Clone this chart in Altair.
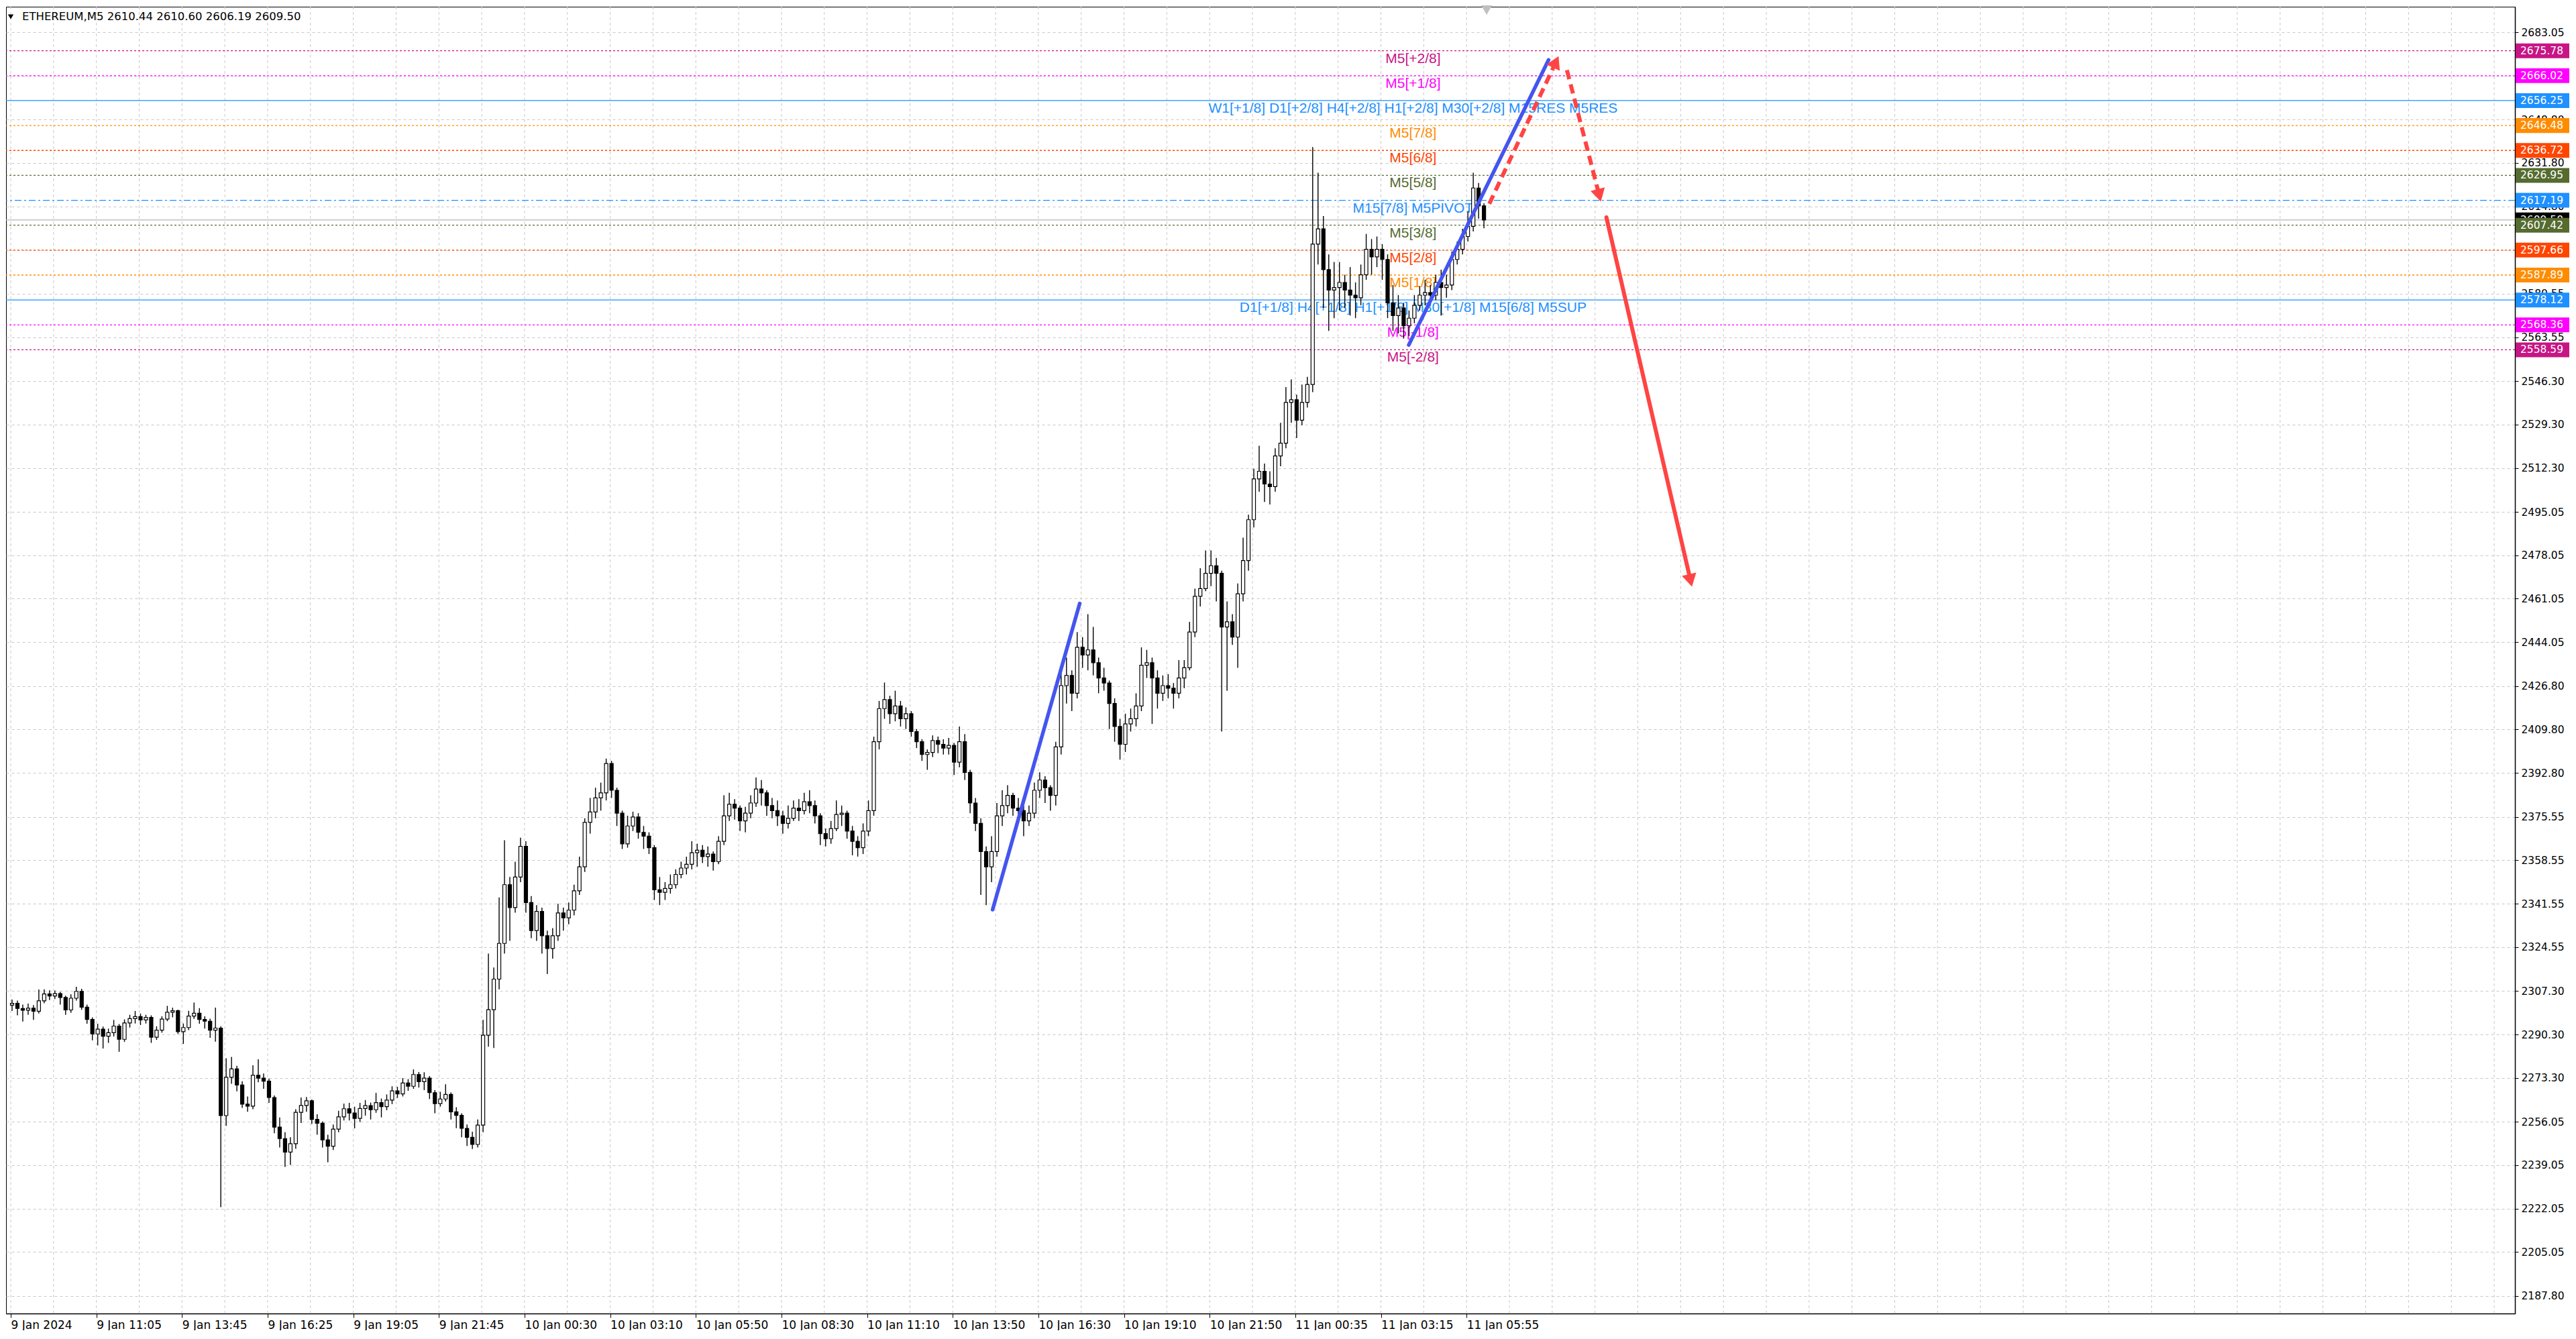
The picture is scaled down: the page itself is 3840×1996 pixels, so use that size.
import altair as alt
import pandas as pd


# ETHEREUM M5, 9-11 Jan 2024. Candles, two M5 bars per candle
# (open = close of the candle before)
first_open = 2301.8
closes = [
    2302.5, 2300.5, 2299.8, 2300.6, 2299.4, 2303.5, 2306.2, 2305.4, 2306.3, 2304.8,
    2299.9, 2304.5, 2307.2, 2301.0, 2296.2, 2290.5, 2292.4, 2289.6, 2291.0, 2293.6,
    2288.4, 2294.8, 2296.5, 2297.3, 2296.0, 2297.0, 2289.2, 2292.0, 2296.3, 2299.0,
    2299.6, 2291.4, 2293.0, 2297.5, 2298.6, 2296.2, 2295.5, 2292.0, 2292.8, 2258.5,
    2273.5, 2276.8, 2270.5, 2263.0, 2262.2, 2274.3, 2273.2, 2272.0, 2265.6, 2254.0,
    2249.5, 2244.2, 2247.5, 2259.8, 2262.5, 2264.3, 2257.0, 2255.5, 2249.0, 2246.5,
    2253.2, 2258.0, 2261.2, 2259.5, 2257.4, 2261.3, 2262.4, 2260.8, 2263.6, 2262.0,
    2264.6, 2268.2, 2267.0, 2271.3, 2270.0, 2274.6, 2271.8, 2273.2, 2267.5, 2263.2,
    2265.0, 2266.8, 2260.0, 2258.6, 2253.5, 2250.0, 2247.2, 2254.8, 2290.0, 2300.0,
    2312.0, 2326.0, 2349.0, 2340.0, 2352.0, 2364.0, 2342.0, 2331.0, 2338.5, 2329.0,
    2324.0, 2329.0, 2337.9, 2336.0, 2339.0, 2346.6, 2356.0, 2373.4, 2377.5, 2383.0,
    2385.0, 2396.5, 2386.0, 2377.0, 2365.0, 2372.0, 2375.5, 2369.5, 2368.0, 2363.5,
    2347.0, 2346.0, 2347.5, 2349.0, 2353.0, 2355.5, 2357.0, 2361.5, 2362.5, 2360.0,
    2361.0, 2358.0, 2366.0, 2376.0, 2380.5, 2379.0, 2374.0, 2377.0, 2381.0, 2386.5,
    2385.0, 2380.0, 2378.0, 2376.0, 2373.0, 2375.0, 2379.0, 2378.0, 2381.5, 2380.0,
    2376.0, 2369.0, 2367.0, 2371.0, 2376.5, 2377.0, 2370.0, 2366.0, 2363.5, 2370.0,
    2378.0, 2405.0, 2418.0, 2421.5, 2416.0, 2419.0, 2414.0, 2416.0, 2409.0, 2405.0,
    2400.0, 2400.8, 2405.5, 2404.0, 2402.5, 2403.6, 2397.0, 2405.0, 2393.0, 2381.0,
    2373.0, 2362.0, 2356.0, 2362.0, 2376.0, 2380.0, 2384.0, 2379.0, 2378.0, 2374.0,
    2377.0, 2386.0, 2390.0, 2387.0, 2384.0, 2403.0, 2427.0, 2431.0, 2424.0, 2442.0,
    2439.0, 2441.0, 2436.0, 2430.0, 2428.0, 2420.0, 2411.0, 2404.0, 2412.0, 2414.0,
    2419.0, 2435.0, 2436.0, 2430.0, 2424.0, 2427.0, 2426.0, 2424.0, 2430.0, 2434.0,
    2448.0, 2462.0, 2465.0, 2471.0, 2474.0, 2471.0, 2450.0, 2452.0, 2446.0, 2463.0,
    2476.0, 2492.0, 2508.0, 2511.0, 2506.0, 2505.0, 2517.0, 2522.0, 2538.0, 2539.0,
    2531.0, 2538.0, 2545.0, 2600.0, 2606.0, 2590.0, 2582.0, 2583.0, 2585.0, 2582.0,
    2580.0, 2579.0, 2588.0, 2598.0, 2595.0, 2598.0, 2594.0, 2577.0, 2572.0, 2575.0,
    2568.0, 2571.0, 2576.0, 2580.0, 2581.0, 2580.0, 2585.0, 2583.0, 2584.0, 2594.0,
    2598.0, 2603.0, 2607.0, 2622.0, 2615.0, 2609.5,
]
highs = [
    2304.0, 2303.6, 2302.0, 2302.4, 2301.8, 2307.9, 2308.0, 2307.6, 2307.5, 2307.0,
    2305.5, 2306.0, 2309.0, 2308.2, 2302.0, 2297.0, 2294.5, 2293.4, 2292.6, 2296.0,
    2294.4, 2296.2, 2298.0, 2299.5, 2298.5, 2298.0, 2297.8, 2293.5, 2297.4, 2301.5,
    2300.8, 2300.0, 2294.6, 2299.6, 2302.8, 2300.6, 2297.4, 2296.5, 2300.8, 2293.5,
    2281.0, 2281.5, 2278.0, 2272.0, 2266.0, 2278.2, 2280.6, 2275.0, 2273.0, 2266.4,
    2257.8, 2252.0, 2250.0, 2261.0, 2265.6, 2265.8, 2264.8, 2259.0, 2256.2, 2251.0,
    2255.0, 2260.4, 2263.2, 2263.5, 2262.0, 2263.5, 2264.6, 2263.6, 2267.4, 2265.2,
    2266.8, 2270.0, 2269.8, 2273.2, 2272.8, 2276.6, 2275.6, 2275.5, 2274.0, 2268.5,
    2267.8, 2270.8, 2267.6, 2261.8, 2259.4, 2255.0, 2252.2, 2257.0, 2296.0, 2322.0,
    2316.5, 2344.0, 2366.4, 2352.0, 2358.0, 2367.4, 2366.0, 2344.5, 2341.0, 2340.0,
    2331.0, 2332.0, 2341.5, 2340.0, 2342.0, 2349.0, 2360.0, 2375.0, 2383.0, 2387.0,
    2389.0, 2398.4, 2397.5, 2387.0, 2378.0, 2376.0, 2377.6, 2377.0, 2372.0, 2369.5,
    2364.5, 2352.0, 2350.0, 2353.0, 2355.0, 2358.0, 2360.0, 2366.0, 2365.0, 2364.5,
    2364.0, 2362.0, 2368.0, 2384.0, 2385.0, 2382.5, 2380.0, 2379.5, 2384.0, 2391.0,
    2390.0, 2386.0, 2383.0, 2382.0, 2378.0, 2380.0, 2382.0, 2382.5, 2385.0, 2386.0,
    2382.0, 2377.0, 2371.0, 2374.0, 2382.0, 2380.0, 2378.0, 2372.0, 2368.0, 2373.0,
    2382.0, 2407.0, 2421.0, 2428.2, 2423.0, 2425.0, 2421.0, 2418.5, 2417.0, 2410.0,
    2406.0, 2402.0, 2407.5, 2407.0, 2406.0, 2406.5, 2404.5, 2411.0, 2408.0, 2394.0,
    2383.0, 2375.0, 2364.0, 2368.0, 2381.0, 2386.0, 2388.0, 2385.0, 2383.0, 2380.0,
    2380.0, 2389.0, 2393.0, 2391.5, 2388.0, 2405.0, 2432.0, 2438.0, 2433.0, 2448.0,
    2446.0, 2455.0, 2450.0, 2438.0, 2434.0, 2429.0, 2422.0, 2414.0, 2416.0, 2418.0,
    2424.0, 2442.0, 2441.0, 2438.0, 2433.0, 2431.0, 2431.5, 2428.0, 2437.0, 2437.0,
    2452.0, 2465.0, 2473.0, 2480.0, 2480.0, 2477.0, 2472.0, 2460.0, 2455.0, 2467.0,
    2485.0, 2494.0, 2512.0, 2521.0, 2514.0, 2511.0, 2520.0, 2530.0, 2544.0, 2547.0,
    2541.0, 2545.0, 2548.0, 2638.0, 2628.0, 2611.0, 2596.0, 2593.0, 2593.0, 2588.0,
    2591.0, 2585.0, 2592.0, 2604.0, 2602.0, 2603.0, 2600.0, 2596.0, 2584.0, 2580.0,
    2577.0, 2574.0, 2580.0, 2583.5, 2586.0, 2584.0, 2588.0, 2590.0, 2588.0, 2597.0,
    2601.0, 2606.0, 2613.0, 2628.0, 2624.0, 2616.0,
]
lows = [
    2299.5, 2297.8, 2295.4, 2298.0, 2296.0, 2298.5, 2302.5, 2303.8, 2304.2, 2302.0,
    2298.0, 2298.8, 2303.6, 2300.0, 2294.5, 2288.0, 2286.0, 2284.8, 2287.0, 2289.5,
    2283.5, 2287.4, 2293.0, 2294.6, 2294.0, 2294.6, 2287.0, 2288.2, 2291.0, 2295.5,
    2297.0, 2290.5, 2286.6, 2292.0, 2296.4, 2294.5, 2292.6, 2289.0, 2287.5, 2222.6,
    2254.5, 2271.0, 2268.0, 2261.5, 2260.0, 2261.0, 2271.6, 2269.0, 2263.5, 2251.6,
    2246.0, 2238.4, 2239.2, 2245.5, 2255.6, 2260.0, 2255.2, 2251.0, 2246.0, 2240.2,
    2245.0, 2252.0, 2256.6, 2256.6, 2253.5, 2256.0, 2258.5, 2257.0, 2259.6, 2257.8,
    2260.6, 2263.0, 2265.4, 2266.0, 2268.2, 2269.0, 2269.5, 2268.5, 2265.0, 2259.4,
    2262.0, 2264.0, 2257.0, 2253.6, 2250.0, 2246.6, 2245.4, 2246.0, 2252.0, 2285.5,
    2285.0, 2308.0, 2322.0, 2327.0, 2338.0, 2350.0, 2338.0, 2328.0, 2327.0, 2322.0,
    2314.0, 2320.0, 2327.0, 2331.0, 2333.5, 2337.0, 2345.0, 2354.0, 2369.0, 2375.0,
    2378.0, 2382.0, 2383.0, 2372.0, 2363.0, 2363.5, 2370.0, 2367.0, 2363.0, 2361.0,
    2343.0, 2341.0, 2343.0, 2345.5, 2347.5, 2351.5, 2353.0, 2355.0, 2356.0, 2357.5,
    2356.0, 2354.5, 2357.0, 2364.5, 2374.0, 2374.5, 2370.0, 2369.5, 2375.0, 2379.5,
    2380.0, 2376.0, 2375.0, 2372.0, 2369.0, 2371.0, 2374.0, 2374.0, 2376.5, 2377.0,
    2373.0, 2364.5, 2364.0, 2365.0, 2370.0, 2372.0, 2367.0, 2360.5, 2360.0, 2361.0,
    2368.0, 2376.0, 2402.0, 2414.0, 2412.0, 2413.0, 2411.0, 2410.0, 2407.0, 2402.5,
    2397.5, 2394.0, 2399.0, 2400.5, 2400.0, 2400.0, 2392.0, 2395.0, 2390.0, 2377.0,
    2370.0, 2345.0, 2341.0, 2350.0, 2360.0, 2372.0, 2377.0, 2376.0, 2374.0, 2368.0,
    2372.0, 2375.0, 2383.0, 2381.0, 2378.0, 2380.0, 2400.0, 2420.0, 2417.0, 2422.0,
    2434.0, 2433.0, 2431.0, 2424.0, 2425.0, 2410.0, 2405.0, 2398.0, 2401.0, 2409.0,
    2411.0, 2417.0, 2430.0, 2412.0, 2418.0, 2421.0, 2422.0, 2418.0, 2422.0, 2426.0,
    2433.0, 2446.0, 2458.0, 2464.0, 2466.0, 2460.0, 2409.0, 2425.0, 2443.0, 2434.0,
    2460.0, 2472.0, 2489.0, 2503.0, 2499.0, 2498.0, 2503.0, 2513.0, 2520.0, 2530.0,
    2524.0, 2529.0, 2536.0, 2542.0, 2592.0, 2575.0, 2566.0, 2571.0, 2574.0, 2575.0,
    2572.0, 2571.0, 2576.0, 2586.0, 2588.0, 2591.0, 2586.0, 2571.0, 2566.0, 2565.0,
    2563.0, 2564.0, 2569.0, 2574.0, 2576.0, 2577.0, 2578.0, 2572.0, 2579.0, 2582.0,
    2592.0, 2596.0, 2601.0, 2605.0, 2610.0, 2606.2,
]

# time labels sit every 32 M5 bars
time_labels = [
    "9 Jan 2024", "9 Jan 11:05", "9 Jan 13:45", "9 Jan 16:25", "9 Jan 19:05",
    "9 Jan 21:45", "10 Jan 00:30", "10 Jan 03:10", "10 Jan 05:50", "10 Jan 08:30",
    "10 Jan 11:10", "10 Jan 13:50", "10 Jan 16:30", "10 Jan 19:10", "10 Jan 21:50",
    "11 Jan 00:35", "11 Jan 03:15", "11 Jan 05:55",
]
price_ticks = [
    2683.05, 2666.05, 2648.80, 2631.80, 2614.80, 2597.55, 2580.55, 2563.55,
    2546.30, 2529.30, 2512.30, 2495.05, 2478.05, 2461.05, 2444.05, 2426.80,
    2409.80, 2392.80, 2375.55, 2358.55, 2341.55, 2324.55, 2307.30, 2290.30,
    2273.30, 2256.05, 2239.05, 2222.05, 2205.05, 2187.80,
]

# Murrey math levels
level_prices = [2675.78, 2666.02, 2656.25, 2646.48, 2636.72, 2626.95, 2617.19,
                2607.42, 2597.66, 2587.89, 2578.12, 2568.36, 2558.59]
level_names = [
    "M5[+2/8]", "M5[+1/8]",
    "W1[+1/8] D1[+2/8] H4[+2/8] H1[+2/8] M30[+2/8] M15RES M5RES",
    "M5[7/8]", "M5[6/8]", "M5[5/8]", "M15[7/8] M5PIVOT", "M5[3/8]", "M5[2/8]",
    "M5[1/8]", "D1[+1/8] H4[+1/8] H1[+1/8] M30[+1/8] M15[6/8] M5SUP",
    "M5[-1/8]", "M5[-2/8]",
]
level_colors = ["#C71585", "#FF00FF", "#1E90FF", "#FF8C00", "#FF4500", "#556B2F", "#1E90FF",
                "#556B2F", "#FF4500", "#FF8C00", "#1E90FF", "#FF00FF", "#C71585"]
level_styles = ["dot", "dot", "solid", "dot", "dot", "dot", "dashdot",
                "dot", "dot", "dot", "solid", "dot", "dot"]
label_bar = 524

bid = 2609.50
header = "ETHEREUM,M5  2610.44 2610.60 2606.19 2609.50"

# drawn objects: M5 bar number and price at both ends
blue_x = [366.9, 522.4]
blue_p = [2339.2, 2560.5]
blue_x2 = [399.45, 574.65]
blue_p2 = [2459.2, 2672.2]
red_dash_x = [552.5, 581.5]
red_dash_p = [2615.8, 2668.2]
red_dash_x2 = [577.4, 593.6]
red_dash_p2 = [2671.4, 2619.1]
red_x = [596.25]
red_p = [2610.5]
red_x2 = [627.7]
red_p2 = [2468.2]
head_x = [577.37, 593.59, 627.68]
head_p = [2671.4, 2619.1, 2468.2]
head_angle = [25.2, 165.5, 166.9]
shift_mark = 551.5


W, H = 3740, 1948
xs = alt.Scale(domain=[-0.5, 934.5], nice=False, zero=False)
ys = alt.Scale(domain=[2180.95, 2693.04], nice=False, zero=False)
FONT = 'DejaVu Sans'

candles = pd.DataFrame({
    'bar': [2 * k + 0.5 for k in range(len(closes))],
    'open': [first_open] + closes[:-1],
    'high': highs,
    'low': lows,
    'close': closes,
})
levels = pd.DataFrame({
    'price': level_prices, 'name': level_names,
    'color': level_colors, 'style': level_styles, 'bar': label_bar,
})

label_expr = '[' + ','.join("'%s'" % s for s in time_labels) + '][round(datum.value / 32)]'
x_axis = alt.Axis(
    values=[32 * i for i in range(len(time_labels))], labelExpr=label_expr,
    grid=False, labelAlign='left', labelBaseline='top', labelPadding=3, tickSize=6,
    labelFont=FONT, labelFontSize=17, labelColor='black', tickColor='black',
    domainColor='black', domainWidth=1.5, labelOverlap=False, labelFlush=False, title=None,
)
y_axis = alt.Axis(
    orient='right', values=price_ticks, format='.2f', grid=True, gridColor='#C8C8C8',
    gridDash=[4, 4], tickSize=5, labelPadding=4, labelFont=FONT, labelFontSize=15.5,
    labelColor='black', tickColor='black', domainColor='black', domainWidth=1.5,
    labelOverlap=False, title=None,
)


# every layer carries the same axis definition so the merged axes stay
def X(field, **kw):
    return alt.X(field, scale=xs, axis=x_axis, **kw)


def Y(field, **kw):
    return alt.Y(field, scale=ys, axis=y_axis, **kw)


# axis carrier, drawn first so the axes sit under everything
base = alt.Chart(candles).mark_rule(opacity=0).encode(x=X('bar:Q'), y=Y('low:Q'))

vgrid = alt.Chart(pd.DataFrame({'x': list(range(0, 935, 16))})).mark_rule(
    color='#C8C8C8', strokeDash=[4, 4], strokeWidth=1
).encode(x=X('x:Q'))

wicks = alt.Chart(candles).mark_rule(color='black', strokeWidth=1.4).encode(
    x=X('bar:Q'), y=Y('low:Q'), y2='high:Q',
)
bodies = alt.Chart(candles).mark_bar(width=5, stroke='black', strokeWidth=1.2).encode(
    x=X('bar:Q'), y=Y('open:Q'), y2='close:Q',
    fill=alt.condition('datum.close >= datum.open', alt.value('white'), alt.value('black')),
)

dashes = {'dot': [3, 3], 'dashdot': [10, 4, 3, 4]}
level_lines = []
for style in ['dot', 'solid', 'dashdot']:
    mark = dict(strokeWidth=1.3)
    if style in dashes:
        mark['strokeDash'] = dashes[style]
    level_lines.append(
        alt.Chart(levels[levels['style'] == style]).mark_rule(**mark).encode(
            y=Y('price:Q'), color=alt.Color('color:N', scale=None)
        )
    )

bid_line = alt.Chart(pd.DataFrame({'price': [bid]})).mark_rule(
    color='#B4B4B4', strokeWidth=1.3
).encode(y=Y('price:Q'))

level_text = alt.Chart(levels).mark_text(
    align='center', baseline='top', font='Liberation Sans', fontSize=21, dy=1
).encode(x=X('bar:Q'), y=Y('price:Q'), text='name:N', color=alt.Color('color:N', scale=None))

blue = alt.Chart(pd.DataFrame({'x': blue_x, 'p': blue_p, 'x2': blue_x2, 'p2': blue_p2})).mark_rule(
    color='#4455EE', strokeWidth=5.5, strokeCap='round'
).encode(x=X('x:Q'), y=Y('p:Q'), x2='x2:Q', y2='p2:Q')

red_dash = alt.Chart(pd.DataFrame({'x': red_dash_x, 'p': red_dash_p,
                                   'x2': red_dash_x2, 'p2': red_dash_p2})).mark_rule(
    color='#FF4444', strokeWidth=6, strokeDash=[14, 8]
).encode(x=X('x:Q'), y=Y('p:Q'), x2='x2:Q', y2='p2:Q')

red = alt.Chart(pd.DataFrame({'x': red_x, 'p': red_p, 'x2': red_x2, 'p2': red_p2})).mark_rule(
    color='#FF4444', strokeWidth=6, strokeCap='round'
).encode(x=X('x:Q'), y=Y('p:Q'), x2='x2:Q', y2='p2:Q')

heads = alt.Chart(pd.DataFrame({'x': head_x, 'p': head_p, 'a': head_angle})).mark_point(
    shape='triangle-up', filled=True, size=480, color='#FF4444', opacity=1
).encode(x=X('x:Q'), y=Y('p:Q'), angle=alt.Angle('a:Q', scale=None))

shift = alt.Chart(pd.DataFrame({'x': [shift_mark]})).mark_point(
    shape='triangle-down', filled=True, size=260, color='#C0C0C0', opacity=1
).encode(x=X('x:Q'), y=alt.value(5))

title_text = alt.Chart(pd.DataFrame({'t': [header]})).mark_text(
    align='left', baseline='middle', font=FONT, fontSize=16.5, color='black'
).encode(x=alt.value(24), y=alt.value(15), text='t:N')
title_mark = alt.Chart(pd.DataFrame({'t': [header]})).mark_point(
    shape='triangle-down', filled=True, size=70, color='black', opacity=1
).encode(x=alt.value(7), y=alt.value(15))


def price_boxes(df):
    box = alt.Chart(df).transform_calculate(
        lo='datum.price - 2.9', hi='datum.price + 2.9'
    ).mark_rect().encode(
        x=alt.value(W + 1), x2=alt.value(W + 81),
        y=Y('lo:Q'), y2='hi:Q', color=alt.Color('color:N', scale=None),
    )
    txt = alt.Chart(df).mark_text(
        align='left', baseline='middle', font=FONT, fontSize=15.5, color='white'
    ).encode(x=alt.value(W + 8), y=Y('price:Q'), text='label:N')
    return [box, txt]


bid_box = pd.DataFrame({'price': [bid], 'label': ['%.2f' % bid], 'color': ['black']})
level_box = pd.DataFrame({'price': level_prices,
                          'label': ['%.2f' % p for p in level_prices],
                          'color': level_colors})

chart = alt.layer(
    base, vgrid, *level_lines, bid_line, level_text, wicks, bodies,
    blue, red_dash, red, heads, shift, title_text, title_mark,
    *price_boxes(bid_box), *price_boxes(level_box),
).properties(
    width=W, height=H, padding=0, background='white'
).configure_view(
    stroke='black', strokeWidth=1
)

chart.save("out.html", embed_options={"renderer": "svg", "actions": False})
